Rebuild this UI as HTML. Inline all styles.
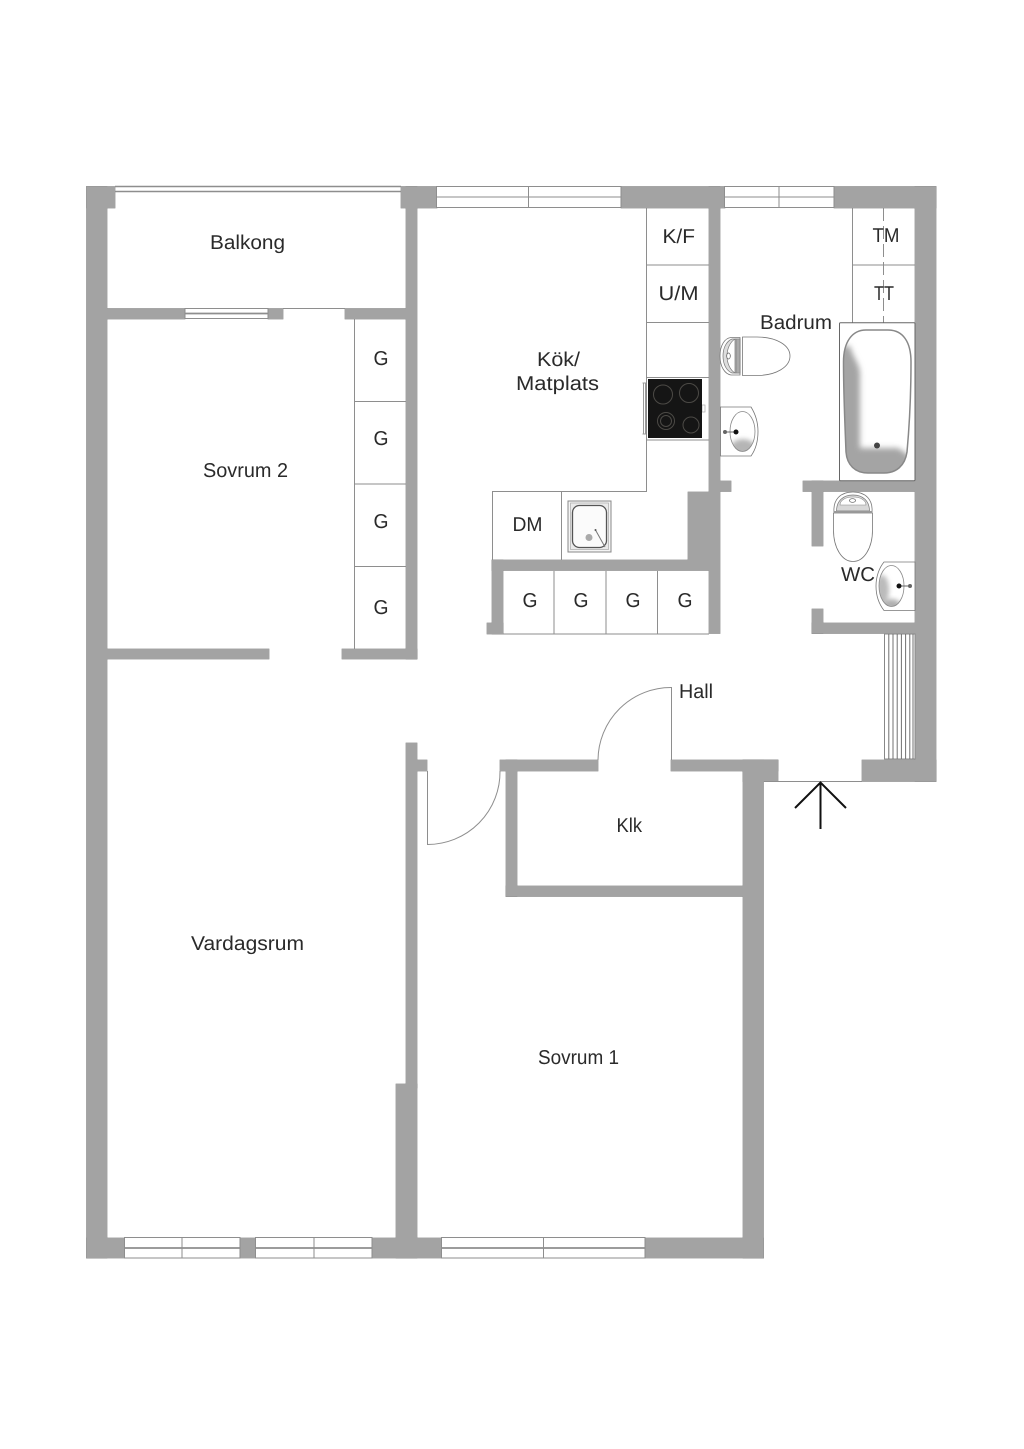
<!DOCTYPE html>
<html lang="sv">
<head>
<meta charset="utf-8">
<title>Planlösning</title>
<style>
html,body{margin:0;padding:0;background:#fff}
svg{display:block}
text{font-family:"Liberation Sans",sans-serif;font-size:20px;fill:#2a2a2a;text-rendering:geometricPrecision}
.l{stroke:#8e8e8e;stroke-width:1;fill:none}
.f{stroke:#8e8e8e;stroke-width:1;fill:#fff}
.t{stroke:#777;stroke-width:.8;fill:#fff}
</style>
</head>
<body>
<svg xmlns="http://www.w3.org/2000/svg" width="1024" height="1449" viewBox="0 0 1024 1449">
<defs>
<g id="w">
<rect x="86.500" y="186.500" width="20.500" height="1071.500"/>
<rect x="86.500" y="186.500" width="28.500" height="21.500"/>
<rect x="401" y="186.500" width="36" height="21.500"/>
<rect x="406" y="186.500" width="11" height="472.500"/>
<rect x="621" y="186.500" width="104" height="21.500"/>
<rect x="834" y="186.500" width="102" height="21.500"/>
<rect x="915" y="186.500" width="21" height="595"/>
<rect x="709" y="186.500" width="11" height="447"/>
<rect x="720" y="481" width="11" height="10.500"/>
<rect x="107" y="308.500" width="78" height="10.500"/>
<rect x="268" y="308.500" width="15" height="10.500"/>
<rect x="345" y="308.500" width="61" height="10.500"/>
<rect x="107" y="649" width="162" height="10"/>
<rect x="342" y="649" width="75" height="10"/>
<rect x="688" y="492" width="21" height="78"/>
<rect x="492" y="560" width="217" height="10.500"/>
<rect x="492" y="560" width="11" height="74"/>
<rect x="487" y="623" width="16" height="11"/>
<rect x="803" y="481" width="112" height="10.500"/>
<rect x="812" y="481" width="11" height="65"/>
<rect x="812" y="609" width="11" height="24.500"/>
<rect x="812" y="623" width="103" height="10.500"/>
<rect x="862" y="760" width="74" height="21.500"/>
<rect x="500" y="760" width="98" height="11"/>
<rect x="671" y="760" width="107" height="11"/>
<rect x="743" y="760" width="35" height="21.500"/>
<rect x="743" y="760" width="20.500" height="498"/>
<rect x="506" y="760" width="11" height="136.500"/>
<rect x="506" y="886" width="237" height="10.500"/>
<rect x="406" y="743" width="11" height="345"/>
<rect x="417" y="760" width="10" height="11"/>
<rect x="396" y="1084" width="21" height="174"/>
<rect x="86.500" y="1238" width="38.500" height="20"/>
<rect x="240" y="1238" width="16" height="20"/>
<rect x="372" y="1238" width="70" height="20"/>
<rect x="645" y="1238" width="118.500" height="20"/>
</g>
<clipPath id="tubc"><path d="M866 330 H888 C903 330 911 342 911 362 C911 400 909 430 907 452 C905 466 896 473 884 473 H868 C855 473 847 465 846 452 C845 425 843.500 395 843.500 362 C843.500 342 852 330 866 330Z"/></clipPath>
<filter id="b3" x="-30%" y="-30%" width="160%" height="160%"><feGaussianBlur stdDeviation="3"/></filter>
<filter id="b2" x="-30%" y="-30%" width="160%" height="160%"><feGaussianBlur stdDeviation="2.500"/></filter>
<clipPath id="s1"><ellipse cx="742.500" cy="431.500" rx="12.500" ry="20"/></clipPath>
<clipPath id="s2"><ellipse cx="891.500" cy="586" rx="12.500" ry="20.500"/></clipPath>
</defs>

<rect width="1024" height="1449" fill="#fff"/>

<!-- walls -->
<use href="#w" fill="#a3a3a3" stroke="#858585" stroke-width="0.700"/>
<use href="#w" fill="#a3a3a3" stroke="none"/>

<!-- windows -->
<g class="l">
<path d="M115 186.500H401M115 191.500H401" stroke-width="1.600"/>
<rect x="185" y="308.500" width="83" height="10" fill="#fff"/><path d="M185 313.500H268" stroke-width="1.800"/>
<path d="M283 308.500H345"/>
<rect x="436.500" y="186.500" width="184.500" height="21" fill="#fff"/><path d="M436.500 197H621M528.500 186.500V207.500"/>
<rect x="724.500" y="186.500" width="109.500" height="21" fill="#fff"/><path d="M724.500 197H834M779 186.500V207.500"/>
<rect x="124.500" y="1237.500" width="115.500" height="20.500" fill="#fff"/><path d="M124.500 1248H240" stroke-width="1.800"/><path d="M182 1237.500V1258"/>
<rect x="255.500" y="1237.500" width="116.500" height="20.500" fill="#fff"/><path d="M255.500 1248H372" stroke-width="1.800"/><path d="M314 1237.500V1258"/>
<rect x="441.500" y="1237.500" width="203.500" height="20.500" fill="#fff"/><path d="M441.500 1248H645" stroke-width="1.800"/><path d="M543.500 1237.500V1258"/>
<path d="M764 781.500H862"/>
</g>

<!-- cabinets -->
<g class="l">
<path d="M354.500 319V649M354.500 401.500H406M354.500 484H406M354.500 566.500H406"/>
<path d="M646.500 208V491.500H492.500V560M561.500 491.500V560M646.500 265H709M646.500 322.500H709M646.500 377.500H709M646.500 440H709"/>
<path d="M503 634H709M554 571V634M606 571V634M657.500 571V634"/>
<path d="M852.500 208V322.500M852.500 265H915"/>
<path d="M883.500 208V323" stroke-dasharray="13 5"/>
</g>

<!-- doors -->
<path class="l" d="M427.500 771V844.500A72.500 72.500 0 0 0 500 771"/>
<path class="l" d="M598 760A73 73 0 0 1 671.500 687.500V760"/>

<!-- stove -->
<path d="M642.500 383H646M642.500 434H646M643.500 383V434M645.500 383V434" stroke="#999" stroke-width="1" fill="none"/>
<rect x="702" y="405" width="3" height="7" fill="#fff" stroke="#aaa" stroke-width=".7"/>
<rect x="648" y="379" width="54" height="59" fill="#151515"/>
<g fill="none" stroke="#4c4a46" stroke-width="1">
<circle cx="663" cy="394.500" r="9.500"/><circle cx="689" cy="393" r="9.500"/>
<circle cx="666" cy="421" r="8.500"/><circle cx="666" cy="421" r="5.500"/><circle cx="691" cy="425" r="8"/>
</g>

<!-- kitchen sink -->
<rect x="568" y="501" width="43" height="51" fill="#f4f4f4" stroke="#888" stroke-width="1"/>
<rect x="570.500" y="503" width="38" height="46.500" fill="#eaeaea" stroke="#aaa" stroke-width=".7"/>
<rect x="572.500" y="505.500" width="34" height="42" rx="7" fill="#fbfbfb" stroke="#555" stroke-width="1.300"/>
<circle cx="589" cy="537.500" r="3.500" fill="#aaa"/>
<path d="M595.500 530L605 547" stroke="#777" stroke-width="1"/>
<circle cx="595.500" cy="530" r="1" fill="#555"/>

<!-- bath -->
<rect x="839.500" y="322.700" width="75.500" height="158" rx="1" fill="#fff" stroke="#666" stroke-width="1"/>
<g clip-path="url(#tubc)">
<rect x="843" y="330" width="69" height="143" fill="#fff"/>
<path d="M838 346H850C853 358 860 364 860 374V448H898L910 456V480H838Z" fill="#a4a4a4" filter="url(#b3)"/>
</g>
<path d="M866 330 H888 C903 330 911 342 911 362 C911 400 909 430 907 452 C905 466 896 473 884 473 H868 C855 473 847 465 846 452 C845 425 843.500 395 843.500 362 C843.500 342 852 330 866 330Z" fill="none" stroke="#888" stroke-width="1.500"/>
<circle cx="877" cy="445.500" r="3" fill="#444"/>

<!-- bath toilet -->
<path class="t" d="M740 337.500H731C725 338 720 345 720 356C720 367 725 374 731 375H740Z"/>
<path d="M740 339H732C727 341 723 347 723 356C723 365 727 371 732 373H740Z" fill="#ddd" stroke="#777" stroke-width=".7"/>
<path d="M735 339V373C730 370 727 363 727 356C727 349 730 342 735 339Z" fill="#fff" stroke="#777" stroke-width=".7"/>
<path d="M736 339H740V373H736Z" fill="#aaa" stroke="#777" stroke-width=".6"/>
<ellipse cx="728.500" cy="356" rx="1.800" ry="3" fill="#fff" stroke="#555" stroke-width=".7"/>
<path class="t" d="M742.500 337H757C776 337 790 345 790 356C790 367 776 375.500 757 375.500H742.500Z"/>

<!-- bath sink -->
<path class="t" d="M720.500 407H751C756 415 758 423 758 431.500C758 440 756 449 751 456H720.500Z"/>
<g clip-path="url(#s1)">
<rect x="730" y="411" width="26" height="41" fill="#fff"/>
<ellipse cx="743" cy="449" rx="13" ry="10" fill="#b5b5b5" filter="url(#b2)"/>
</g>
<ellipse cx="742.500" cy="431.500" rx="12.500" ry="20" fill="none" stroke="#888" stroke-width=".8"/>
<path d="M725 432H736" stroke="#666" stroke-width="1"/>
<circle cx="725" cy="432" r="2" fill="#666"/><circle cx="736" cy="432" r="2.500" fill="#111"/>

<!-- wc toilet -->
<path class="t" d="M834 512C833 500 840 492 853 492C866 492 873 500 872 512Z"/>
<path d="M836.500 511C836.500 501 843 495 853 495C863 495 869.500 501 869.500 511Z" fill="#d8d8d8" stroke="#777" stroke-width=".7"/>
<path d="M840 505C840 500 846 497 853 497C860 497 866 500 866 505Z" fill="#fff" stroke="#888" stroke-width=".6"/>
<ellipse cx="852.500" cy="500.500" rx="3" ry="1.800" fill="#fff" stroke="#555" stroke-width=".7"/>
<path class="t" d="M833.500 513H872.500V530C872.500 548 864 561.500 853 561.500C842 561.500 833.500 548 833.500 530Z"/>
<path d="M834 511.500H872" stroke="#999" stroke-width="1"/>

<!-- wc sink -->
<path class="t" d="M915 562H884C879 568 876 577 876 586C876 595 879 604 884 610.500H915Z"/>
<g clip-path="url(#s2)">
<rect x="879" y="565" width="26" height="42" fill="#fff"/>
<ellipse cx="882" cy="590" rx="7" ry="15" fill="#bbb" filter="url(#b2)"/>
<ellipse cx="891" cy="605" rx="10" ry="6" fill="#b0b0b0" filter="url(#b2)"/>
</g>
<ellipse cx="891.500" cy="586" rx="12.500" ry="20.500" fill="none" stroke="#888" stroke-width=".8"/>
<path d="M899 586H910" stroke="#666" stroke-width="1"/>
<circle cx="910" cy="586" r="2" fill="#666"/><circle cx="899" cy="586" r="2.500" fill="#111"/>

<!-- radiator -->
<rect x="884.500" y="634" width="30.500" height="125" fill="#fff" stroke="#888" stroke-width="1"/>
<path d="M888.800 634V759M893 634V759M897.200 634V759M901.400 634V759M905.600 634V759M909.800 634V759M913 634V759" stroke="#707070" stroke-width="1"/>

<!-- entry arrow -->
<path d="M820.500 829V783M795 808L820.500 782.500L846 808" fill="none" stroke="#111" stroke-width="2"/>

<!-- labels -->
<text x="210" y="249" textLength="75" lengthAdjust="spacingAndGlyphs">Balkong</text>
<text x="203" y="477" textLength="85" lengthAdjust="spacingAndGlyphs">Sovrum 2</text>
<text x="373.500" y="365" textLength="15" lengthAdjust="spacingAndGlyphs">G</text>
<text x="373.500" y="445" textLength="15" lengthAdjust="spacingAndGlyphs">G</text>
<text x="373.500" y="528" textLength="15" lengthAdjust="spacingAndGlyphs">G</text>
<text x="373.500" y="614" textLength="15" lengthAdjust="spacingAndGlyphs">G</text>
<text x="537" y="366" textLength="43" lengthAdjust="spacingAndGlyphs">Kök/</text>
<text x="516" y="390" textLength="83" lengthAdjust="spacingAndGlyphs">Matplats</text>
<text x="662.500" y="243" textLength="32.500" lengthAdjust="spacingAndGlyphs">K/F</text>
<text x="658.500" y="300" textLength="40" lengthAdjust="spacingAndGlyphs">U/M</text>
<text x="872.500" y="242" textLength="27" lengthAdjust="spacingAndGlyphs">TM</text>
<text x="874" y="300" textLength="20" lengthAdjust="spacingAndGlyphs">TT</text>
<text x="760" y="329" textLength="72" lengthAdjust="spacingAndGlyphs">Badrum</text>
<text x="512.500" y="531" textLength="30" lengthAdjust="spacingAndGlyphs">DM</text>
<text x="522.500" y="607" textLength="15" lengthAdjust="spacingAndGlyphs">G</text>
<text x="573.500" y="607" textLength="15" lengthAdjust="spacingAndGlyphs">G</text>
<text x="625.500" y="607" textLength="15" lengthAdjust="spacingAndGlyphs">G</text>
<text x="677.500" y="607" textLength="15" lengthAdjust="spacingAndGlyphs">G</text>
<text x="841" y="581" textLength="34" lengthAdjust="spacingAndGlyphs">WC</text>
<text x="679" y="698" textLength="34" lengthAdjust="spacingAndGlyphs">Hall</text>
<text x="616.500" y="832" textLength="25.500" lengthAdjust="spacingAndGlyphs">Klk</text>
<text x="191" y="950" textLength="113" lengthAdjust="spacingAndGlyphs">Vardagsrum</text>
<text x="538" y="1064" textLength="81" lengthAdjust="spacingAndGlyphs">Sovrum 1</text>
</svg>
</body>
</html>
